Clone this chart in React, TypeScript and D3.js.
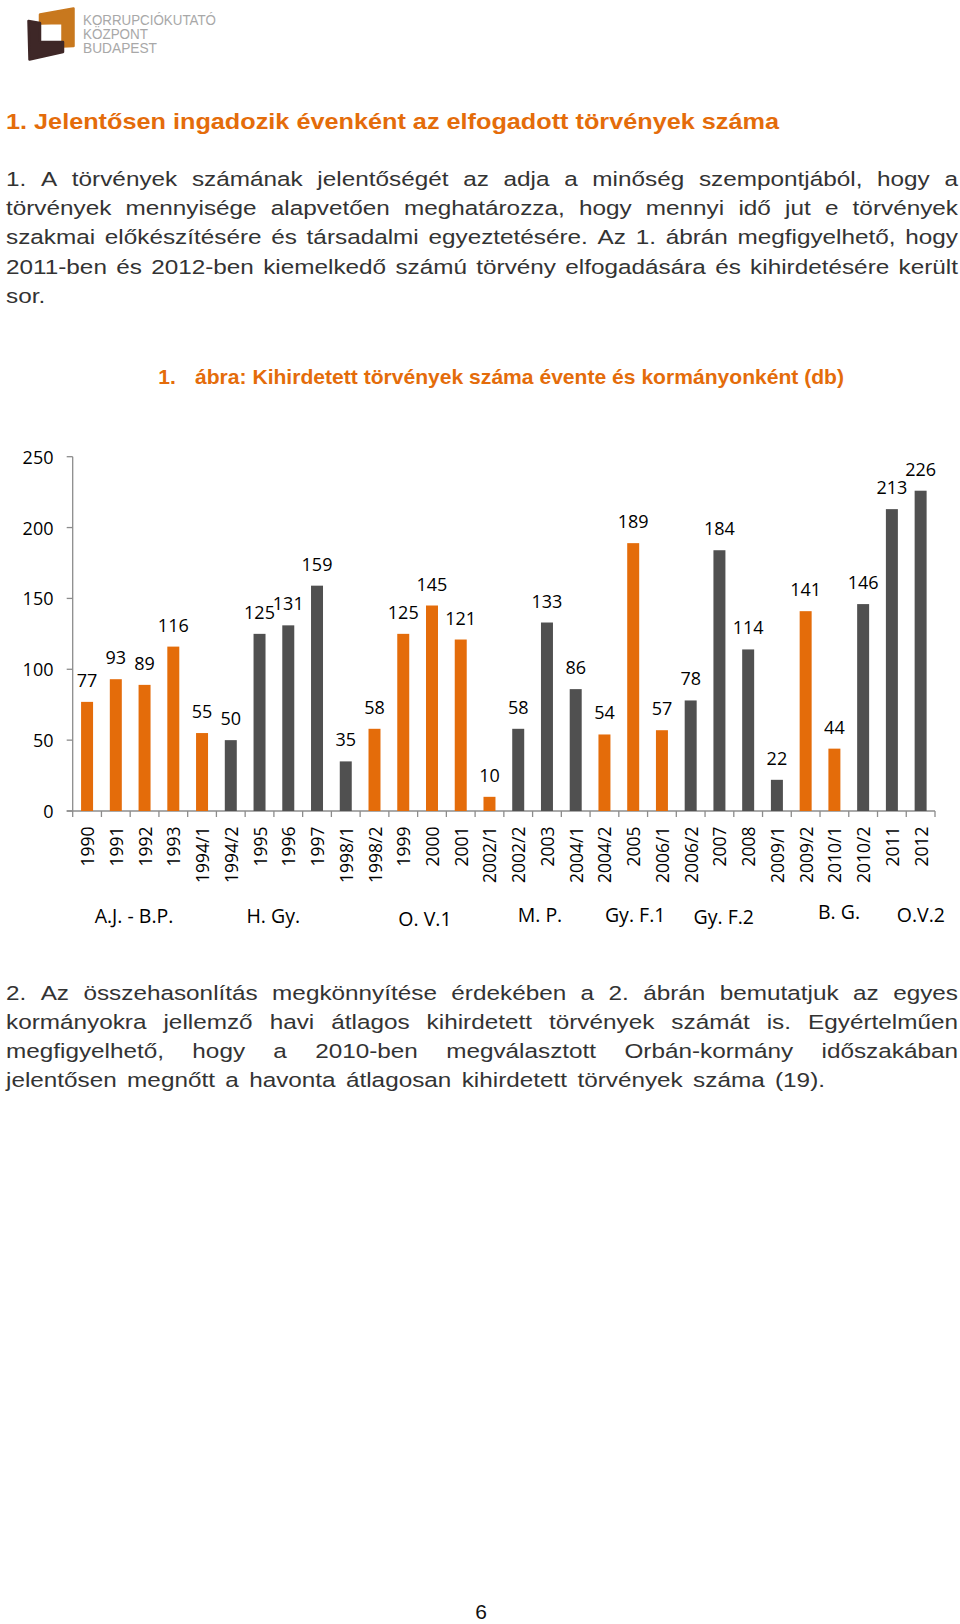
import React, { useMemo } from 'react';
import * as d3 from 'd3';

// ---------- data ----------
const CATEGORIES = [
  '1990', '1991', '1992', '1993', '1994/1', '1994/2', '1995', '1996', '1997', '1998/1',
  '1998/2', '1999', '2000', '2001', '2002/1', '2002/2', '2003', '2004/1', '2004/2', '2005',
  '2006/1', '2006/2', '2007', '2008', '2009/1', '2009/2', '2010/1', '2010/2', '2011', '2012',
];
const VALUES = [
  77, 93, 89, 116, 55, 50, 125, 131, 159, 35,
  58, 125, 145, 121, 10, 58, 133, 86, 54, 189,
  57, 78, 184, 114, 22, 141, 44, 146, 213, 226,
];
const GOV_NAMES = ['A.J. - B.P.', 'H. Gy.', 'O. V.1', 'M. P.', 'Gy. F.1', 'Gy. F.2', 'B. G.', 'O.V.2'];
const GOV_FIRST_CATEGORY = ['1990', '1994/2', '1998/2', '2002/2', '2004/2', '2006/2', '2009/2', '2010/2'];
const Y_TICKS = [0, 50, 100, 150, 200, 250];

const TITLE = '1. Jelentősen ingadozik évenként az elfogadott törvények száma';
const PARA1 = [
  '1. A törvények számának jelentőségét az adja a minőség szempontjából, hogy a',
  'törvények mennyisége alapvetően meghatározza, hogy mennyi idő jut e törvények',
  'szakmai előkészítésére és társadalmi egyeztetésére. Az 1. ábrán megfigyelhető, hogy',
  '2011-ben és 2012-ben kiemelkedő számú törvény elfogadására és kihirdetésére került',
  'sor.',
];
const PARA2 = [
  '2. Az összehasonlítás megkönnyítése érdekében a 2. ábrán bemutatjuk az egyes',
  'kormányokra jellemző havi átlagos kihirdetett törvények számát is. Egyértelműen',
  'megfigyelhető, hogy a 2010-ben megválasztott Orbán-kormány időszakában',
  'jelentősen megnőtt a havonta átlagosan kihirdetett törvények száma (19).',
];
const CAPTION_NUM = '1.';
const CAPTION = 'ábra: Kihirdetett törvények száma évente és kormányonként (db)';
const LOGO_LINES = ['KORRUPCIÓKUTATÓ', 'KÖZPONT', 'BUDAPEST'];

// ---------- styles / layout ----------
const ORANGE = '#E46C0A';
const GRAY = '#505050';
const AXIS = '#8C8C8C';
const TEXT = '#333333';
const CHART_FONT = '"Open Sans", Lato, sans-serif';
const BODY_FONT = '"Liberation Sans", Arial, sans-serif';

const X0 = 72.7;
const X1 = 935;
const Y_TOP = 456.7;
const Y_BOT = 811;
const GOV_LABEL_DX = [-10.5, -15, -7, -7, 2, -10, 19, 29];
const GOV_LABEL_Y = [923, 923, 926, 921.7, 921.7, 924, 919.3, 921.7];

let ctx: CanvasRenderingContext2D | null = null;
function measure(text: string, font: string): number {
  if (!ctx) ctx = document.createElement('canvas').getContext('2d');
  ctx!.font = font;
  return ctx!.measureText(text).width;
}

const P_SIZE = 20.5;
const P_FONT = `${P_SIZE}px "Liberation Sans"`;

function layoutLine(text: string, k: number, x0: number, width: number, justify: boolean) {
  const words = text.split(/\s+/).filter(Boolean);
  const ws = words.map((w) => measure(w, P_FONT) * k);
  const space = measure(' ', P_FONT) * k;
  let gap = space;
  if (justify && words.length > 1) gap = (width - d3.sum(ws)) / (words.length - 1);
  let x = x0;
  return words.map((w, i) => {
    const r = { w, x, len: ws[i] };
    x += ws[i] + gap;
    return r;
  });
}

function Paragraph({ lines, y0, k, widths }: { lines: string[]; y0: number; k: number; widths: (number | null)[] }) {
  return (
    <g fill={TEXT} fontFamily={BODY_FONT} fontSize={P_SIZE}>
      {lines.map((line, li) => {
        const w = widths[li];
        const words = layoutLine(line, k, 6, w ?? 0, w !== null);
        return words.map((wd, wi) => (
          <text key={`${li}-${wi}`} x={wd.x} y={y0 + li * 29.1} textLength={wd.len} lengthAdjust="spacingAndGlyphs">
            {wd.w}
          </text>
        ));
      })}
    </g>
  );
}

export default function App() {
  const x = d3.scaleBand<string>().domain(CATEGORIES).range([X0, X1]).paddingInner(0.583).paddingOuter(0.2915);
  const y = d3.scaleLinear().domain([0, 250]).range([Y_BOT, Y_TOP]);
  const step = x.step();
  const bw = x.bandwidth();

  const govIndex = CATEGORIES.map((c) => {
    let g = 0;
    GOV_FIRST_CATEGORY.forEach((f, i) => {
      if (CATEGORIES.indexOf(c) >= CATEGORIES.indexOf(f)) g = i;
    });
    return g;
  });

  const k = useMemo(() => {
    const last = PARA2[PARA2.length - 1];
    return (0.965 * 819) / measure(last, P_FONT);
  }, []);

  return (
    <svg width={960} height={1624} style={{ position: 'absolute', left: 0, top: 0, display: 'block', background: '#fff' }}>
      <rect x={0} y={0} width={960} height={1624} fill="#fff" />
      {/* logo */}
      <g strokeLinejoin="round" strokeWidth={2.5}>
        <path d="M40,14.5 L73.5,8.5 L73.5,46 L62.5,46.5 L62.5,23 L40,23.5 Z" fill="#C8781E" stroke="#C8781E" />
        <path d="M28.5,21 L40,23 L40,42 L63,42 L63,52 L29.5,59.5 Z" fill="#3E2727" stroke="#3E2727" />
      </g>
      <g fill="#A8A8A8" fontFamily={BODY_FONT} fontSize={14.5}>
        <text x={83} y={25} textLength={133} lengthAdjust="spacingAndGlyphs">{LOGO_LINES[0]}</text>
        <text x={83} y={39.3} textLength={65} lengthAdjust="spacingAndGlyphs">{LOGO_LINES[1]}</text>
        <text x={83} y={53.3} textLength={74} lengthAdjust="spacingAndGlyphs">{LOGO_LINES[2]}</text>
      </g>

      {/* title */}
      <text x={6} y={128.5} fill={ORANGE} fontFamily={BODY_FONT} fontWeight="bold" fontSize={22} textLength={773} lengthAdjust="spacingAndGlyphs">
        {TITLE}
      </text>

      <Paragraph lines={PARA1} y0={186.2} k={k} widths={[952, 952, 952, 952, null]} />

      {/* caption */}
      <g fill={ORANGE} fontFamily={BODY_FONT} fontWeight="bold" fontSize={21}>
        <text x={158.3} y={384}>{CAPTION_NUM}</text>
        <text x={195} y={384} textLength={649} lengthAdjust="spacingAndGlyphs">{CAPTION}</text>
      </g>

      {/* chart */}
      <g fontFamily={CHART_FONT}>
        {/* y axis */}
        <line x1={X0} x2={X0} y1={Y_TOP} y2={Y_BOT} stroke={AXIS} strokeWidth={1.3} />
        {Y_TICKS.map((t) => (
          <g key={t}>
            <line x1={X0 - 6} x2={X0} y1={y(t)} y2={y(t)} stroke={AXIS} strokeWidth={1.3} />
            <text x={53.5} y={y(t)} textAnchor="end" dominantBaseline="central" fontSize={18} fill="#000">
              {t}
            </text>
          </g>
        ))}
        {/* x axis */}
        <line x1={X0 - 6} x2={X1} y1={Y_BOT} y2={Y_BOT} stroke={AXIS} strokeWidth={1.3} />
        {d3.range(CATEGORIES.length + 1).map((i) => (
          <line key={i} x1={X0 + i * step} x2={X0 + i * step} y1={Y_BOT} y2={Y_BOT + 6} stroke={AXIS} strokeWidth={1.3} />
        ))}
        {/* bars */}
        {CATEGORIES.map((c, i) => (
          <rect key={c} x={x(c)} y={y(VALUES[i])} width={bw} height={Y_BOT - y(VALUES[i])} fill={govIndex[i] % 2 === 0 ? ORANGE : GRAY} />
        ))}
        {/* data labels */}
        {CATEGORIES.map((c, i) => (
          <text key={c} x={(x(c) as number) + bw / 2} y={y(VALUES[i]) - 15} textAnchor="middle" fontSize={18} fill="#000">
            {VALUES[i]}
          </text>
        ))}
        {/* x tick labels */}
        {CATEGORIES.map((c) => {
          const cx = (x(c) as number) + bw / 2;
          const ty = 826.5;
          return (
            <text key={c} transform={`translate(${cx},${ty}) rotate(-90)`} textAnchor="end" dominantBaseline="central" fontSize={17.5} fill="#000">
              {c}
            </text>
          );
        })}
        {/* government labels */}
        {GOV_NAMES.map((g, gi) => {
          const first = CATEGORIES.indexOf(GOV_FIRST_CATEGORY[gi]);
          const last = gi < GOV_NAMES.length - 1 ? CATEGORIES.indexOf(GOV_FIRST_CATEGORY[gi + 1]) - 1 : CATEGORIES.length - 1;
          const cx = X0 + ((first + last + 1) / 2) * step + GOV_LABEL_DX[gi];
          return (
            <text key={g} x={cx} y={GOV_LABEL_Y[gi]} textAnchor="middle" fontSize={19.5} fill="#000">
              {g}
            </text>
          );
        })}
      </g>

      <Paragraph lines={PARA2} y0={999.5} k={k} widths={[952, 952, 952, 819]} />

      <text x={481} y={1619} textAnchor="middle" fontFamily={BODY_FONT} fontSize={21} fill="#111">6</text>
    </svg>
  );
}
